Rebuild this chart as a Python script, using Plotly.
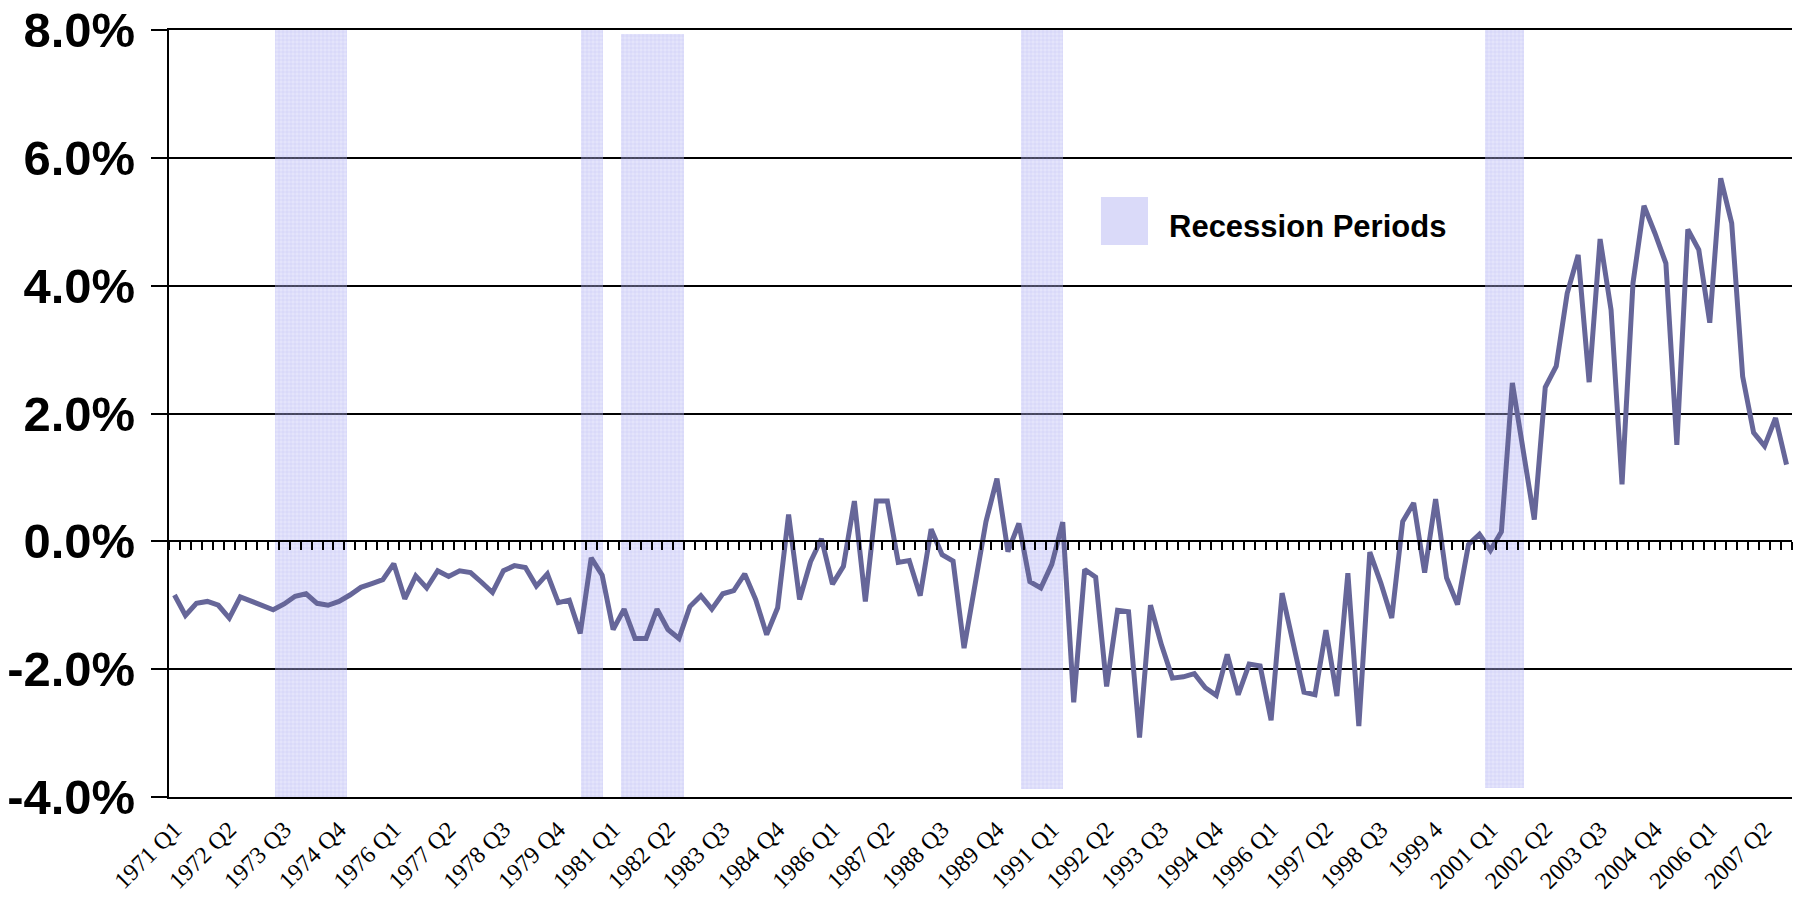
import plotly.graph_objects as go

# quarterly categories 1971 Q1 .. 2007 Q4
quarters = [f"{y} Q{q}" for y in range(1971, 2008) for q in range(1, 5)]

# labels shown under the axis (every 5th quarter, as in the original)
tick_labels = [
    "1971 Q1", "1972 Q2", "1973 Q3", "1974 Q4", "1976 Q1", "1977 Q2",
    "1978 Q3", "1979 Q4", "1981 Q1", "1982 Q2", "1983 Q3", "1984 Q4",
    "1986 Q1", "1987 Q2", "1988 Q3", "1989 Q4", "1991 Q1", "1992 Q2",
    "1993 Q3", "1994 Q4", "1996 Q1", "1997 Q2", "1998 Q3", "1999 4",
    "2001 Q1", "2002 Q2", "2003 Q3", "2004 Q4", "2006 Q1", "2007 Q2",
]

# series, in percent
values = [
    -0.84, -1.16, -0.97, -0.94, -1.00, -1.20, -0.87, -0.94, -1.00, -1.07,
    -0.98, -0.86, -0.82, -0.97, -1.00, -0.94, -0.84, -0.72, -0.66, -0.60,
    -0.35, -0.90, -0.54, -0.73, -0.46, -0.55, -0.46, -0.49, -0.64, -0.80,
    -0.46, -0.38, -0.41, -0.70, -0.51, -0.96, -0.92, -1.44, -0.26, -0.53,
    -1.38, -1.06, -1.52, -1.52, -1.06, -1.38, -1.52, -1.02, -0.85, -1.06,
    -0.82, -0.77, -0.51, -0.91, -1.46, -1.04, 0.42, -0.91, -0.32, 0.04,
    -0.67, -0.39, 0.63, -0.94, 0.63, 0.63, -0.33, -0.30, -0.85, 0.19,
    -0.21, -0.31, -1.67, -0.68, 0.31, 0.98, -0.16, 0.28, -0.63, -0.73,
    -0.36, 0.30, -2.52, -0.44, -0.56, -2.27, -1.08, -1.10, -3.07, -1.00,
    -1.62, -2.14, -2.12, -2.07, -2.29, -2.41, -1.77, -2.40, -1.92, -1.95,
    -2.80, -0.81, -1.63, -2.36, -2.40, -1.39, -2.42, -0.50, -2.89, -0.17,
    -0.65, -1.20, 0.31, 0.60, -0.49, 0.66, -0.57, -0.99, -0.05, 0.11,
    -0.14, 0.15, 2.48, 1.40, 0.34, 2.41, 2.74, 3.88, 4.48, 2.49,
    4.73, 3.62, 0.89, 4.04, 5.25, 4.82, 4.35, 1.51, 4.88, 4.56,
    3.42, 5.68, 4.98, 2.58, 1.70, 1.49, 1.93, 1.20,
]

# recession bands (quarter index units, percent units)
recession_start = [9.16, 37.03, 40.70, 77.15, 119.50]
recession_end = [15.77, 39.04, 46.45, 80.99, 123.10]
recession_top = [8.03, 8.02, 7.93, 8.17, 8.14]
recession_bottom = [-4.00, -4.00, -4.10, -3.88, -3.86]

y_ticks = [-4, -2, 0, 2, 4, 6, 8]
y_min, y_max = -4, 8

x_idx = list(range(len(quarters)))
x_range = [-0.5, len(quarters) - 0.5]

fig = go.Figure()

# recession shading
fig.add_trace(
    go.Bar(
        x=[(s + e) / 2 for s, e in zip(recession_start, recession_end)],
        width=[e - s for s, e in zip(recession_start, recession_end)],
        base=recession_bottom,
        y=[t - b for t, b in zip(recession_top, recession_bottom)],
        marker=dict(
            color="rgba(184,184,246,0.35)",
            line=dict(width=0),
            pattern=dict(
                shape="+",
                size=4,
                solidity=0.25,
                fgcolor="rgba(120,120,235,0.45)",
                bgcolor="rgba(184,184,246,0.38)",
            ),
        ),
        cliponaxis=False,
        showlegend=False,
        hoverinfo="skip",
    )
)

# main line (on the overlaid axis that carries the zero-line ticks)
fig.add_trace(
    go.Scatter(
        x=x_idx,
        y=values,
        xaxis="x2",
        yaxis="y",
        mode="lines",
        line=dict(color="#666699", width=5),
        text=quarters,
        hovertemplate="%{text}: %{y:.1f}%<extra></extra>",
        showlegend=False,
    )
)

# legend swatch + label
fig.add_shape(
    type="rect",
    xref="paper", yref="paper",
    x0=0.5742, x1=0.6032, y0=0.7196, y1=0.7822,
    fillcolor="#dadaf9",
    line=dict(width=0),
    layer="above",
)
fig.add_annotation(
    xref="paper", yref="paper",
    x=0.6149, y=0.7437,
    xanchor="left", yanchor="middle",
    text="Recession Periods",
    showarrow=False,
    font=dict(family="Arial, Liberation Sans, sans-serif", size=31,
              color="black", weight="bold"),
)

fig.update_layout(
    width=1797,
    height=898,
    margin=dict(l=169, r=5, t=30, b=101),
    paper_bgcolor="white",
    plot_bgcolor="white",
    showlegend=False,
    bargap=0,
    hovermode="closest",
    xaxis=dict(
        type="linear",
        range=x_range,
        tickmode="array",
        tickvals=x_idx[::5],
        ticktext=tick_labels,
        tickangle=-45,
        ticks="",
        ticklabelstandoff=7,
        showgrid=False,
        zeroline=False,
        showline=True,
        mirror=True,
        linecolor="black",
        linewidth=2,
        tickfont=dict(family="Times New Roman, Liberation Serif, serif",
                      size=24, color="black"),
        automargin=False,
    ),
    xaxis2=dict(
        type="linear",
        overlaying="x",
        anchor="free",
        position=(0 - y_min) / (y_max - y_min),
        side="bottom",
        range=x_range,
        tickmode="linear",
        tick0=0.5,
        dtick=1,
        ticks="outside",
        ticklen=8,
        tickwidth=2,
        tickcolor="black",
        showticklabels=False,
        showgrid=False,
        zeroline=False,
        showline=True,
        linecolor="black",
        linewidth=2,
    ),
    yaxis=dict(
        range=[y_min, y_max],
        tickmode="array",
        tickvals=y_ticks,
        ticktext=[f"{v:.1f}%" for v in y_ticks],
        showgrid=True,
        gridcolor="black",
        gridwidth=2,
        zeroline=False,
        showline=True,
        linecolor="black",
        linewidth=2,
        ticks="outside",
        ticklen=16,
        tickwidth=2,
        tickcolor="black",
        ticklabelstandoff=6,
        tickfont=dict(family="Arial, Liberation Sans, sans-serif", size=49,
                      color="black", weight="bold"),
        automargin=False,
    ),
)

fig.write_html(
    "out.html",
    config={"displayModeBar": False},
    post_script="document.body.style.margin='0px';document.body.style.overflow='hidden';",
)
